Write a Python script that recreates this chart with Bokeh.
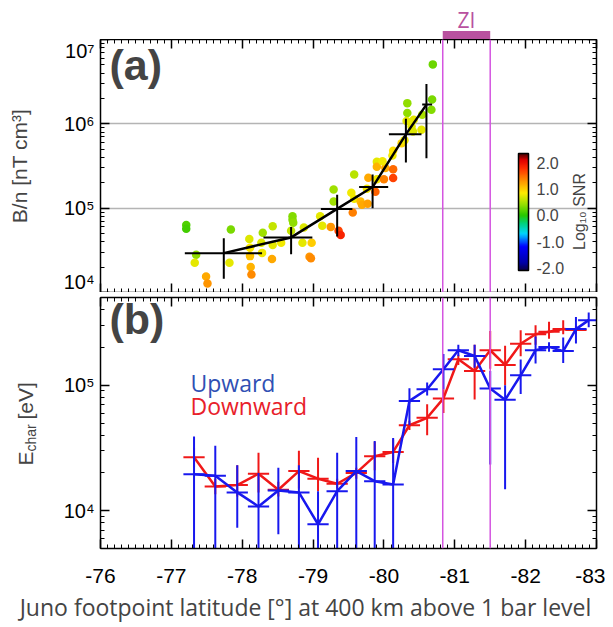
import numpy as np
from bokeh.plotting import figure
from bokeh.models import (Range1d, FixedTicker, ColorBar, LinearColorMapper, Label, Span,
                          LinearAxis, LogAxis, PrintfTickFormatter, ColumnDataSource)
from bokeh.layouts import column, row
from bokeh.embed import file_html
from bokeh.resources import INLINE

# ---------------- data ----------------
# panel (a) scatter: footpoint latitude, B/n, log10 SNR
scatter_lat = [-77.21, -77.21, -77.35, -77.33, -77.49, -77.51, -77.84, -77.82, -78.10, -78.11,
               -78.11, -78.12, -78.13, -78.29, -78.27, -78.28, -78.43, -78.43, -78.42, -78.55,
               -78.71, -78.71, -78.72, -78.69, -78.85, -78.87, -78.98, -78.95, -78.97, -79.10,
               -79.13, -79.25, -79.29, -79.29, -79.36, -79.39, -79.54, -79.58, -79.56, -79.58,
               -79.67, -79.69, -79.77, -79.78, -79.76, -79.88, -79.90, -79.90, -79.90, -80.02,
               -80.00, -79.98, -80.13, -80.13, -80.12, -80.13, -80.25, -80.29, -80.33, -80.33,
               -80.32, -80.39, -80.42, -80.41, -80.54, -80.53, -80.67, -80.68, -80.69]
scatter_bn = [6.3e4, 5.7e4, 2.8e4, 2.25e4, 1.55e4, 1.28e4, 5.6e4, 2.25e4, 4.3e4, 3.4e4,
              2.7e4, 2.0e4, 1.63e4, 5.1e4, 3.9e4, 2.95e4, 6.1e4, 3.65e4, 2.5e4, 3.9e4,
              8.0e4, 7.3e4, 6.7e4, 5.4e4, 3.9e4, 5.9e4, 3.9e4, 2.65e4, 2.55e4, 8.0e4,
              6.2e4, 6.0e4, 1.67e5, 1.2e5, 5.4e4, 4.8e4, 1.52e5, 2.5e5, 8.9e4, 1.29e5,
              1.2e5, 1.1e5, 1.13e5, 2.3e5, 1.7e5, 1.57e5, 2.2e5, 3.55e5, 3.1e5, 3.0e5,
              2.2e5, 3.6e5, 2.9e5, 2.28e5, 4.2e5, 4.8e5, 5.9e5, 6.4e5, 1.76e6, 1.34e6,
              1.08e6, 9.3e5, 1.12e6, 8.1e5, 1.28e6, 8.5e5, 1.47e6, 1.94e6, 5.07e6]
scatter_snr = [0.15, 0.1, 0.4, 0.75, 1.2, 1.3, 0.3, 0.75, 0.7, 0.85,
               1.05, 1.15, 1.35, 0.45, 0.7, 0.8, 0.6, 0.75, 1.2, 0.8,
               0.35, 0.35, 0.4, 0.6, 0.75, 0.7, 1.0, 1.3, 1.35, 0.75,
               0.75, 1.3, 0.45, 0.45, 1.7, 1.85, 0.8, 0.55, 1.4, 0.8,
               1.1, 1.2, 1.25, 1.2, 0.8, 1.55, 0.8, 0.75, 1.15, 1.2,
               1.4, 0.8, 1.5, 1.7, 0.8, 0.9, 0.95, 0.8, 0.4, 0.4,
               0.75, 0.75, 0.75, 0.7, 0.5, 0.75, 0.35, 0.3, 0.25]

# panel (a) binned averages
bin_lat = [-77.74, -78.69, -79.34, -79.84, -80.31, -80.60]
bin_lat_from = [-77.19, -78.30, -79.11, -79.65, -80.07, -80.54]
bin_lat_to = [-78.28, -78.99, -79.555, -80.06, -80.53, -80.68]
bin_bn = [2.93e4, 4.5e4, 9.8e4, 1.78e5, 7.5e5, 1.69e6]
bin_bn_lo = [1.46e4, 2.85e4, 4.6e4, 1.0e5, 3.47e5, 3.9e5]
bin_bn_hi = [4.4e4, 6.0e4, 1.44e5, 2.5e5, 1.15e6, 2.97e6]

# panel (b) characteristic energies
lat_b = [-77.32, -77.62, -77.93, -78.23, -78.51, -78.80, -79.07, -79.34, -79.61, -79.87,
         -80.13, -80.36, -80.61, -80.84, -81.05, -81.28, -81.50, -81.71, -81.93, -82.14,
         -82.33, -82.53, -82.71, -82.89]
up = [1.95e4, 1.9e4, 1.4e4, 1.08e4, 1.45e4, 1.4e4, 7.8e3, 1.43e4, 2.07e4, 1.72e4,
      1.62e4, 7.5e4, 9.3e4, 1.34e5, 1.9e5, 1.71e5, 9.4e4, 7.65e4, 1.2e5, 1.9e5,
      2.02e5, 1.87e5, 2.8e5, 3.3e5]
up_lo = [4e3, 4e3, 7.3e3, 4e3, 6.5e3, 4e3, 4e3, 4e3, 4e3, 4e3,
         4e3, 4.8e4, 8.3e4, 9.3e4, 1.7e5, 1.38e5, 2.34e4, 1.48e4, 8.5e4, 1.49e5,
         1.85e5, 1.5e5, 2.15e5, 2.9e5]
up_hi = [3.9e4, 3.3e4, 2.3e4, 2.0e4, 2.2e4, 2.3e4, 1.43e4, 2.9e4, 3.87e4, 3.6e4,
         3.8e4, 9.45e4, 1.05e5, 1.77e5, 2.1e5, 2.1e5, 1.3e5, 1.0e5, 1.6e5, 2.45e5,
         2.2e5, 2.4e5, 3.5e5, 3.8e5]
lat_d = lat_b[:23]
down = [2.67e4, 1.56e4, 1.6e4, 1.97e4, 1.47e4, 2.07e4, 1.8e4, 1.64e4, 2.0e4, 2.72e4,
        2.94e4, 4.8e4, 5.5e4, 7.85e4, 1.61e5, 1.3e5, 1.9e5, 1.45e5, 2.14e5, 2.55e5,
        2.67e5, 2.8e5, 2.75e5]
down_lo = [2.2e4, 1.35e4, 1.3e4, 1.4e4, 1.3e4, 1.5e4, 1.43e4, 1.5e4, 1.8e4, 2.1e4,
           2.4e4, 4.4e4, 4.0e4, 6.0e4, 1.45e5, 7.7e4, 1.35e5, 1.0e5, 1.7e5, 2.1e5,
           2.35e5, 2.55e5, 2.55e5]
down_hi = [3.2e4, 1.8e4, 2.3e4, 2.9e4, 1.7e4, 3.0e4, 2.64e4, 1.8e4, 2.2e4, 3.55e4,
           3.7e4, 5.2e4, 7.05e4, 9.3e4, 1.75e5, 2.1e5, 2.7e5, 2.06e5, 2.74e5, 3.0e5,
           3.2e5, 3.3e5, 2.95e5]

zi_bounds = [-80.83, -81.50]
x_ticks = [-76, -77, -78, -79, -80, -81, -82, -83]
x_tick_labels = {t: "%d" % t for t in x_ticks}
cbar_ticks = [-2.0, -1.0, 0.0, 1.0, 2.0]
decades = [1000, 10000, 100000, 1000000, 10000000, 100000000]
decade_labels = {1000: "10³", 10000: "10⁴", 100000: "10⁵", 1000000: "10⁶", 10000000: "10⁷", 100000000: "10⁸"}

# ---------------- style ----------------
TICK_FONT = "Liberation Sans"
CAP = 0.15  # half width of the horizontal bars in panel (b)
BLUE = "#1818ee"
RED = "#f01818"
ZI_LINE = "#d455e0"
ZI_BAR = "#b9519f"

x_minor = [round(-76 - 0.1 * i, 2) for i in range(71)]
y_minor = [k * d for d in decades[:-1] for k in range(2, 10)]
xr = Range1d(-76, -83)

# rainbow palette
stops = [(-2.1, (10, 0, 70)), (-1.8, (0, 0, 170)), (-1.2, (0, 0, 255)), (-0.7, (0, 215, 255)),
         (-0.3, (0, 210, 120)), (0.0, (40, 200, 0)), (0.45, (160, 225, 0)), (0.85, (255, 235, 0)),
         (1.3, (255, 150, 0)), (1.8, (255, 45, 0)), (2.1, (225, 0, 0)), (2.35, (70, 0, 0))]
sv = np.linspace(-2.1, 2.35, 256)
sx = [s[0] for s in stops]
chans = [np.interp(sv, sx, [s[1][c] for s in stops]) for c in range(3)]
palette = ["#%02x%02x%02x" % (int(r), int(g), int(b)) for r, g, b in zip(*chans)]
mapper = LinearColorMapper(palette=palette, low=-2.1, high=2.35)


def style_axis(ax, ticks, labels=True, size="20px"):
    ax.axis_line_width = 1.5
    ax.axis_line_color = "black"
    ax.major_tick_in = 9
    ax.major_tick_out = 0
    ax.minor_tick_in = 4
    ax.minor_tick_out = 0
    ax.major_tick_line_width = 1.5
    ax.minor_tick_line_width = 1
    ax.major_tick_line_color = "black"
    ax.minor_tick_line_color = "black"
    ax.major_label_text_font = TICK_FONT
    if labels:
        ax.major_label_text_font_size = size
        ax.major_label_text_color = "black"
    else:
        ax.major_label_text_font_size = "2px"
        ax.major_label_overrides = {t: "" for t in ticks}
        ax.major_label_standoff = 0


def add_frame_axes(p, yticks):
    top = LinearAxis(ticker=FixedTicker(ticks=x_ticks, minor_ticks=x_minor))
    style_axis(top, x_ticks, labels=False)
    p.add_layout(top, "above")
    right = LogAxis(ticker=yticks)
    style_axis(right, decades, labels=False)
    p.add_layout(right, "right")


def blank(width, height):
    f = figure(width=width, height=height, x_range=Range1d(0, 1), y_range=Range1d(0, 1),
               toolbar_location=None, output_backend="svg", min_border=0)
    f.axis.visible = False
    f.grid.visible = False
    f.outline_line_color = None
    f.frame_align = False
    return f


# ---------------- ZI header ----------------
p_zi = figure(width=605, height=39, x_range=xr, y_range=Range1d(0, 1), toolbar_location=None,
              output_backend="svg", min_border_left=100, min_border_right=9, min_border_top=0,
              min_border_bottom=0)
p_zi.axis.visible = False
p_zi.grid.visible = False
p_zi.outline_line_color = None
p_zi.quad(left=[zi_bounds[0]], right=[zi_bounds[1]], bottom=[0], top=[0.22], color=ZI_BAR, line_color=None)
p_zi.add_layout(Label(x=sum(zi_bounds) / 2, y=0.15, text="ZI", text_align="center", text_baseline="bottom",
                      text_color=ZI_BAR, text_font="Open Sans", text_font_size="21px"))

# ---------------- panel (a) ----------------
yt_a = FixedTicker(ticks=decades, minor_ticks=y_minor)
p_a = figure(width=605, height=253, x_range=xr, y_range=Range1d(1e4, 1e7), y_axis_type="log",
             toolbar_location=None, output_backend="svg", min_border_left=100, min_border_right=9,
             min_border_top=0, min_border_bottom=0)
p_a.outline_line_color = None
p_a.xaxis.ticker = FixedTicker(ticks=x_ticks, minor_ticks=x_minor)
style_axis(p_a.xaxis[0], x_ticks, labels=False)
p_a.yaxis.ticker = yt_a
style_axis(p_a.yaxis[0], decades, labels=True, size="20px")
p_a.yaxis.major_label_overrides = decade_labels
p_a.yaxis.axis_label = "B/n [nT cm³]"
p_a.yaxis.axis_label_text_font = TICK_FONT
p_a.yaxis.axis_label_text_font_style = "normal"
p_a.yaxis.axis_label_text_font_size = "21px"
p_a.yaxis.axis_label_standoff = 30
p_a.yaxis.major_label_standoff = 6
add_frame_axes(p_a, yt_a)
p_a.xgrid.visible = False
p_a.ygrid.ticker = FixedTicker(ticks=[1e5, 1e6])
p_a.ygrid.grid_line_color = "#b4b4b4"
p_a.ygrid.grid_line_width = 1.5

for zb in zi_bounds:
    p_a.add_layout(Span(location=zb, dimension="height", line_color=ZI_LINE, line_width=1.5))

src = ColumnDataSource(dict(lat=scatter_lat, bn=scatter_bn, snr=scatter_snr))
p_a.scatter("lat", "bn", source=src, size=8.5, line_color=None,
            fill_color={"field": "snr", "transform": mapper})

p_a.segment(x0=bin_lat_from, x1=bin_lat_to, y0=bin_bn, y1=bin_bn, line_color="black", line_width=2)
p_a.segment(x0=bin_lat, x1=bin_lat, y0=bin_bn_lo, y1=bin_bn_hi, line_color="black", line_width=2)
p_a.line(bin_lat, bin_bn, line_color="black", line_width=2.5)

p_a.add_layout(Label(x=9, y=252, x_units="screen", y_units="screen", text="(a)", text_baseline="top",
                     text_font=TICK_FONT, text_font_style="bold", text_font_size="43px"))
p_a.add_layout(Label(x=479, y=81, x_units="screen", y_units="screen", text="Log₁₀ SNR", angle=90,
                     angle_units="deg", text_align="center", text_baseline="middle",
                     text_font=TICK_FONT, text_font_size="16px"))
cb = ColorBar(color_mapper=mapper, location=(418, 22), width=10, height=117, orientation="vertical",
              ticker=FixedTicker(ticks=cbar_ticks), formatter=PrintfTickFormatter(format="%.1f"),
              major_label_text_font=TICK_FONT, major_label_text_font_size="16px", label_standoff=8,
              bar_line_color="black", bar_line_width=1.5, major_tick_line_color=None,
              minor_tick_line_color=None, padding=0, background_fill_alpha=0, border_line_color=None)
p_a.add_layout(cb)

# ---------------- panel (b) ----------------
yt_b = FixedTicker(ticks=decades, minor_ticks=y_minor)
p_b = figure(width=555, height=300, x_range=xr, y_range=Range1d(5e3, 5e5), y_axis_type="log",
             toolbar_location=None, output_backend="svg", min_border_left=50, min_border_right=9,
             min_border_top=5, min_border_bottom=44)
p_b.outline_line_color = None
p_b.xaxis.ticker = FixedTicker(ticks=x_ticks, minor_ticks=x_minor)
style_axis(p_b.xaxis[0], x_ticks, labels=True, size="21px")
p_b.xaxis.major_label_overrides = x_tick_labels
p_b.xaxis.major_label_standoff = 20
p_b.yaxis.ticker = yt_b
style_axis(p_b.yaxis[0], decades, labels=True, size="20px")
p_b.yaxis.major_label_overrides = decade_labels
p_b.yaxis.major_label_standoff = 6
add_frame_axes(p_b, yt_b)
p_b.grid.visible = False

for zb in zi_bounds:
    p_b.add_layout(Span(location=zb, dimension="height", line_color=ZI_LINE, line_width=1.5))

lat_d_arr = np.array(lat_d)
lat_b_arr = np.array(lat_b)
p_b.segment(x0=lat_d, x1=lat_d, y0=down_lo, y1=down_hi, line_color=RED, line_width=2)
p_b.segment(x0=lat_d_arr - CAP, x1=lat_d_arr + CAP, y0=down, y1=down, line_color=RED, line_width=2)
p_b.line(lat_d, down, line_color=RED, line_width=2.5)
p_b.segment(x0=lat_b, x1=lat_b, y0=up_lo, y1=up_hi, line_color=BLUE, line_width=2)
p_b.segment(x0=lat_b_arr - CAP, x1=lat_b_arr + CAP, y0=up, y1=up, line_color=BLUE, line_width=2)
p_b.line(lat_b, up, line_color=BLUE, line_width=2.5)

p_b.add_layout(Label(x=9, y=254, x_units="screen", y_units="screen", text="(b)", text_baseline="top",
                     text_font=TICK_FONT, text_font_style="bold", text_font_size="43px"))
p_b.add_layout(Label(x=90, y=166, x_units="screen", y_units="screen", text="Upward", text_baseline="middle",
                     text_color="#3050b4", text_font="Open Sans", text_font_size="23px"))
p_b.add_layout(Label(x=90, y=143, x_units="screen", y_units="screen", text="Downward", text_baseline="middle",
                     text_color="#e8202a", text_font="Open Sans", text_font_size="23px"))

# y-axis title of panel (b) with subscript, in its own strip
p_lab = blank(50, 300)
p_lab.add_layout(Label(x=25, y=127, x_units="screen", y_units="screen", text="E", angle=90, angle_units="deg",
                       text_align="left", text_baseline="middle", text_font=TICK_FONT, text_font_size="21px"))
p_lab.add_layout(Label(x=30, y=141, x_units="screen", y_units="screen", text="char", angle=90, angle_units="deg",
                       text_align="left", text_baseline="middle", text_font=TICK_FONT, text_font_size="14px"))
p_lab.add_layout(Label(x=25, y=173, x_units="screen", y_units="screen", text="[eV]", angle=90, angle_units="deg",
                       text_align="left", text_baseline="middle", text_font=TICK_FONT, text_font_size="21px"))

# x-axis title, centred on the page as in the original
p_xl = blank(605, 35)
p_xl.add_layout(Label(x=305, y=21, x_units="screen", y_units="screen",
                      text="Juno footpoint latitude [°] at 400 km above 1 bar level",
                      text_align="center", text_baseline="middle", text_font="Open Sans",
                      text_font_size="23px"))

layout = column(p_zi, p_a, row(p_lab, p_b), p_xl)
open("out.html", "w").write(file_html(layout, INLINE))
